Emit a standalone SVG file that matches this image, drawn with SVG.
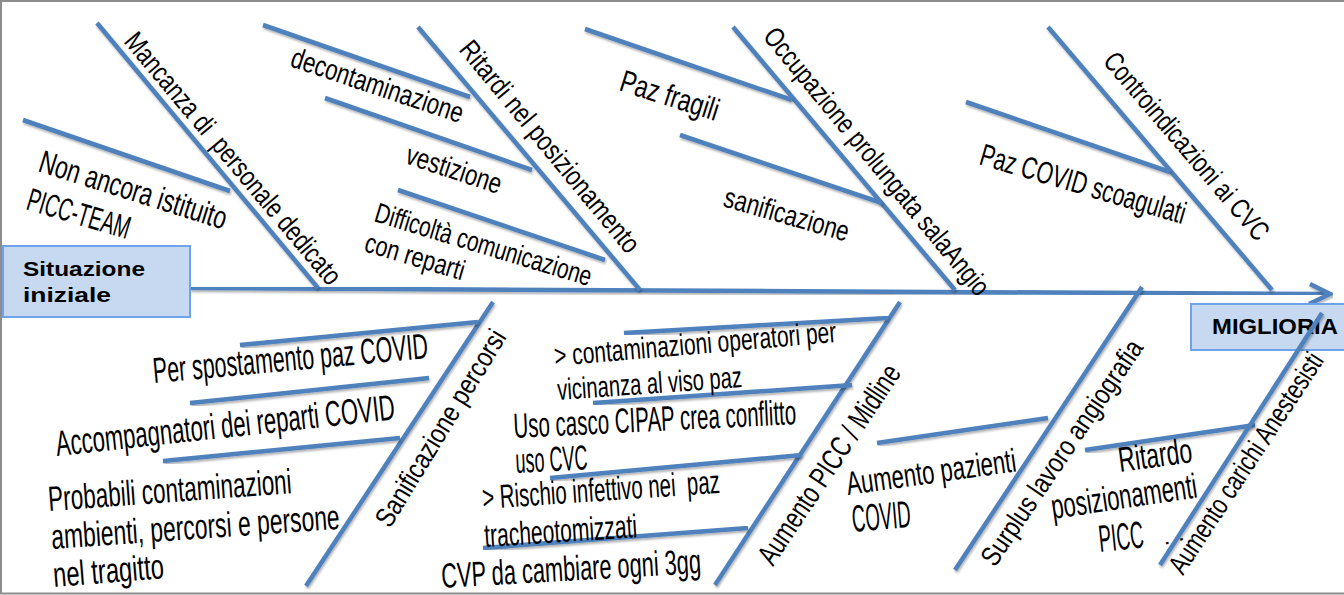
<svg xmlns="http://www.w3.org/2000/svg" width="1344" height="595" viewBox="0 0 1344 595">
<style>
.bone{stroke:#4f81bd;stroke-width:4.5;fill:none;filter:url(#sh)}
.t{font-family:"Liberation Sans Narrow","Liberation Sans",Arial,sans-serif;fill:#000;white-space:pre}
.b{font-family:"Liberation Sans",Arial,sans-serif;font-weight:bold;fill:#000}
.box{fill:#c6d9f1;stroke:#6fa2ea;stroke-width:2}
</style>
<defs>
<filter id="sh" x="-10%" y="-10%" width="120%" height="120%">
<feDropShadow dx="1" dy="2" stdDeviation="1.2" flood-color="#000" flood-opacity="0.3"/>
</filter>
</defs>
<rect width="1344" height="595" fill="#fff"/>
<path d="M1344,1 H1 V593.5 H1344" fill="none" stroke="#8c8c8c" stroke-width="2"/>

<g id="connectors">
<path class="bone" d="M190,288 L1328,294"/>
<path class="bone" d="M1310,284 L1330,294 L1309,304"/>
<path class="bone" d="M97,23 L318,288"/>
<path class="bone" d="M23,120 L230,191"/>
<path class="bone" d="M418,27 L640,290"/>
<path class="bone" d="M263,25 L470,97"/>
<path class="bone" d="M325,98 L532,170"/>
<path class="bone" d="M398,190 L605,260"/>
<path class="bone" d="M733,27 L955,290"/>
<path class="bone" d="M585,29 L792,100"/>
<path class="bone" d="M680,135 L882,203"/>
<path class="bone" d="M1048,27 L1272,290"/>
<path class="bone" d="M966,102 L1170,172"/>
<path class="bone" d="M493,302 L306,586"/>
<path class="bone" d="M240,345 L478,322"/>
<path class="bone" d="M190,403 L429,378"/>
<path class="bone" d="M163,461 L400,438"/>
<path class="bone" d="M900,302 L715,585"/>
<path class="bone" d="M624,333 L888,318"/>
<path class="bone" d="M593,403 L852,385"/>
<path class="bone" d="M550,478 L802,455"/>
<path class="bone" d="M483,548 L748,528"/>
<path class="bone" d="M1142,287 L955,570"/>
<path class="bone" d="M877,443 L1048,418"/>
<path class="bone" d="M1085,450 L1255,425"/>
</g>

<g id="start">
<rect class="box" x="3" y="246" width="187" height="71"/>
<text class="b" x="23" y="276" font-size="21" textLength="122" lengthAdjust="spacingAndGlyphs">Situazione</text>
<text class="b" x="23" y="302" font-size="21" textLength="88" lengthAdjust="spacingAndGlyphs">iniziale</text>
</g>

<g id="end">
<rect class="box" x="1191" y="304" width="160" height="46"/>
<text class="b" x="1212" y="334" font-size="22" textLength="126" lengthAdjust="spacingAndGlyphs">MIGLIORIA</text>
</g>

<g id="connector-anestesisti">
<path class="bone" d="M1322,313 L1160,565"/>
</g>

<g id="mancanza">
<text class="t" transform="translate(123,42) rotate(50)" font-size="28" textLength="320" lengthAdjust="spacingAndGlyphs">Mancanza di  personale dedicato</text>
</g>
<g id="non-ancora">
<text class="t" transform="translate(37,171) rotate(17.5)" font-size="32" textLength="195" lengthAdjust="spacingAndGlyphs">Non ancora istituito</text>
<text class="t" transform="translate(25,209) rotate(16.5)" font-size="32" textLength="106" lengthAdjust="spacingAndGlyphs">PICC-TEAM</text>
</g>
<g id="ritardi">
<text class="t" transform="translate(458,50) rotate(50.5)" font-size="28" textLength="266" lengthAdjust="spacingAndGlyphs">Ritardi nel posizionamento</text>
</g>
<g id="decontaminazione">
<text class="t" transform="translate(289,66) rotate(18.5)" font-size="29" textLength="180" lengthAdjust="spacingAndGlyphs">decontaminazione</text>
</g>
<g id="vestizione">
<text class="t" transform="translate(404,163) rotate(18.3)" font-size="29" textLength="99" lengthAdjust="spacingAndGlyphs">vestizione</text>
</g>
<g id="difficolta">
<text class="t" transform="translate(373,221) rotate(16.8)" font-size="28" textLength="225" lengthAdjust="spacingAndGlyphs">Difficoltà comunicazione</text>
<text class="t" transform="translate(363,251) rotate(16.5)" font-size="28" textLength="103" lengthAdjust="spacingAndGlyphs">con reparti</text>
</g>
<g id="occupazione">
<text class="t" transform="translate(762,37) rotate(50.5)" font-size="28" textLength="338" lengthAdjust="spacingAndGlyphs">Occupazione prolungata salaAngio</text>
</g>
<g id="paz-fragili">
<text class="t" transform="translate(618,90) rotate(17.7)" font-size="31" textLength="102" lengthAdjust="spacingAndGlyphs">Paz fragili</text>
</g>
<g id="sanificazione">
<text class="t" transform="translate(722,206) rotate(16)" font-size="29" textLength="129" lengthAdjust="spacingAndGlyphs">sanificazione</text>
</g>
<g id="controindicazioni">
<text class="t" transform="translate(1102,62) rotate(49.4)" font-size="28" textLength="238" lengthAdjust="spacingAndGlyphs">Controindicazioni ai CVC</text>
</g>
<g id="paz-covid">
<text class="t" transform="translate(978,164) rotate(16.4)" font-size="31" textLength="213" lengthAdjust="spacingAndGlyphs">Paz COVID scoagulati</text>
</g>

<g id="sanificazione-percorsi">
<text class="t" transform="translate(390,529) rotate(-58.6)" font-size="28" textLength="225" lengthAdjust="spacingAndGlyphs">Sanificazione percorsi</text>
</g>
<g id="per-spostamento">
<text class="t" transform="translate(154,383) rotate(-5.2)" font-size="36" textLength="276" lengthAdjust="spacingAndGlyphs">Per spostamento paz COVID</text>
</g>
<g id="accompagnatori">
<text class="t" transform="translate(57,456) rotate(-6.2)" font-size="36" textLength="341" lengthAdjust="spacingAndGlyphs">Accompagnatori dei reparti COVID</text>
</g>
<g id="probabili">
<text class="t" transform="translate(49,511) rotate(-4.2)" font-size="35" textLength="244" lengthAdjust="spacingAndGlyphs">Probabili contaminazioni</text>
<text class="t" transform="translate(52,549) rotate(-4)" font-size="35" textLength="289" lengthAdjust="spacingAndGlyphs">ambienti, percorsi e persone</text>
<text class="t" transform="translate(54,587) rotate(-4.6)" font-size="35" textLength="111" lengthAdjust="spacingAndGlyphs">nel tragitto</text>
</g>

<g id="aumento-picc">
<text class="t" transform="translate(773,567) rotate(-56.4)" font-size="30" textLength="233" lengthAdjust="spacingAndGlyphs">Aumento PICC / Midline</text>
</g>
<g id="contaminazioni-operatori">
<text class="t" transform="translate(555,366) rotate(-4.9)" font-size="30" textLength="283" lengthAdjust="spacingAndGlyphs">&gt; contaminazioni operatori per</text>
<text class="t" transform="translate(558,400) rotate(-4)" font-size="30" textLength="185" lengthAdjust="spacingAndGlyphs">vicinanza al viso paz</text>
</g>
<g id="uso-casco">
<text class="t" transform="translate(514,438) rotate(-2.8)" font-size="35" textLength="283" lengthAdjust="spacingAndGlyphs">Uso casco CIPAP crea conflitto</text>
<text class="t" transform="translate(516,473) rotate(-2.8)" font-size="35" textLength="72" lengthAdjust="spacingAndGlyphs">uso CVC</text>
</g>
<g id="rischio">
<text class="t" transform="translate(483,509) rotate(-3.9)" font-size="33" textLength="238" lengthAdjust="spacingAndGlyphs">&gt; Rischio infettivo nei  paz</text>
<text class="t" transform="translate(485,547) rotate(-3.7)" font-size="33" textLength="153" lengthAdjust="spacingAndGlyphs">tracheotomizzati</text>
</g>
<g id="cvp">
<text class="t" transform="translate(442,588) rotate(-3.3)" font-size="35" textLength="260" lengthAdjust="spacingAndGlyphs">CVP da cambiare ogni 3gg</text>
</g>

<g id="surplus">
<text class="t" transform="translate(995,568) rotate(-55.9)" font-size="28" textLength="266" lengthAdjust="spacingAndGlyphs">Surplus lavoro angiografia</text>
</g>
<g id="aumento-pazienti">
<text class="t" transform="translate(848,495) rotate(-8)" font-size="33" textLength="171" lengthAdjust="spacingAndGlyphs">Aumento pazienti</text>
<text class="t" transform="translate(853,532) rotate(-5)" font-size="38" textLength="59" lengthAdjust="spacingAndGlyphs">COVID</text>
</g>

<g id="aumento-carichi">
<text class="t" transform="translate(1183,576) rotate(-56.7)" font-size="28" textLength="258" lengthAdjust="spacingAndGlyphs">Aumento carichi Anestesisti</text>
</g>
<g id="ritardo">
<text class="t" transform="translate(1120,472) rotate(-7.8)" font-size="35" textLength="74" lengthAdjust="spacingAndGlyphs">Ritardo</text>
<text class="t" transform="translate(1053,519) rotate(-8.5)" font-size="35" textLength="147" lengthAdjust="spacingAndGlyphs">posizionamenti</text>
<text class="t" transform="translate(1100,552) rotate(-6)" font-size="38" textLength="45" lengthAdjust="spacingAndGlyphs">PICC</text>
<text class="t" transform="translate(1164,545) rotate(-15)" font-size="20" textLength="22" lengthAdjust="spacingAndGlyphs">. .</text>
</g>
</svg>
